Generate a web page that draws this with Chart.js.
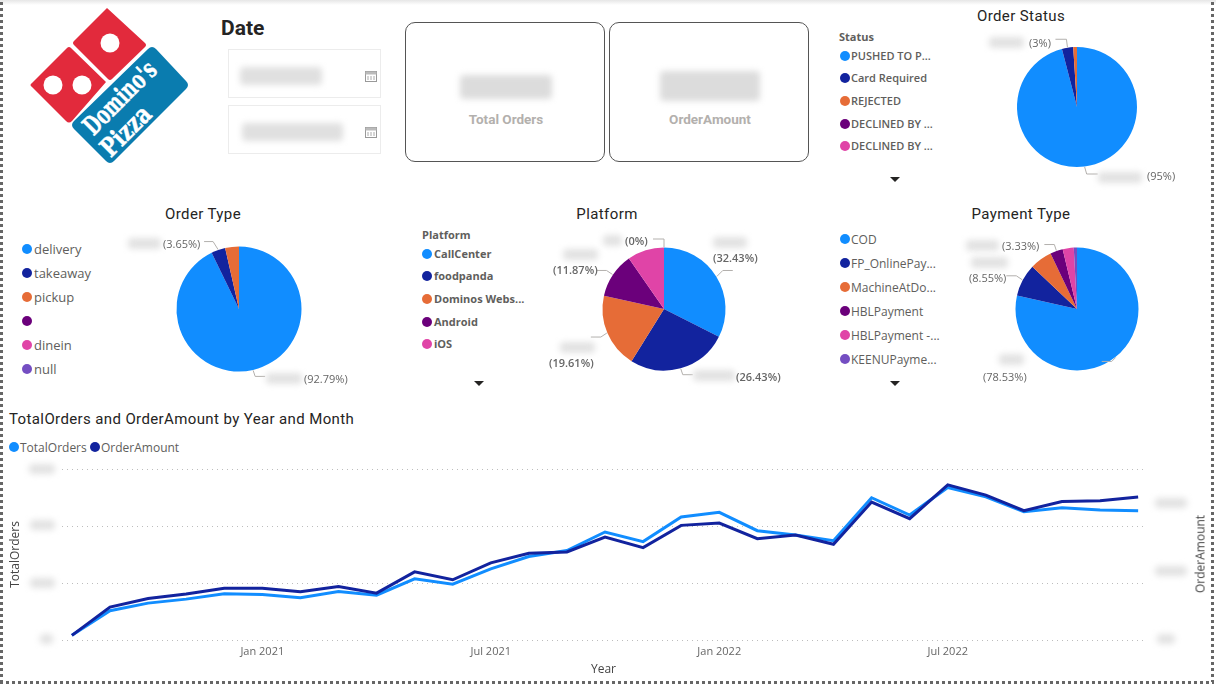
<!DOCTYPE html>
<html>
<head>
<meta charset="utf-8">
<script src="https://cdn.jsdelivr.net/npm/chart.js@4"></script>
<style>
html,body{margin:0;padding:0;background:#fff;width:1216px;height:686px;overflow:hidden}
#root{position:relative;width:1216px;height:686px;overflow:hidden;font-family:"Open Sans",sans-serif;color:#555}
.abs{position:absolute;white-space:nowrap}
.blob{position:absolute;filter:blur(3px);border-radius:4px}
.title{position:absolute;font-family:"Roboto",sans-serif;font-size:15px;color:#252423;letter-spacing:.4px;white-space:nowrap;transform:translate(-50%,-50%)}
.leg{position:absolute;white-space:nowrap;transform:translateY(-50%);color:#605e5c}
.dot{position:absolute;width:10px;height:10px;border-radius:50%;transform:translate(-50%,-50%)}
.pct{position:absolute;font-size:11px;color:#666;white-space:nowrap;transform:translateY(-50%)}
.box{position:absolute;border:1px solid #ececec;box-sizing:border-box}
.card{position:absolute;border:1px solid #555;border-radius:10px;box-sizing:border-box;background:#fff}
.caption{position:absolute;transform:translate(-50%,-50%);font-family:Roboto,sans-serif;font-weight:700;font-size:13.5px;color:#b3b0ad;white-space:nowrap}
.arrow{position:absolute;width:0;height:0;border-left:5px solid transparent;border-right:5px solid transparent;border-top:5px solid #252423;transform:translateX(-50%)}
canvas{display:block}
svg{display:block}
.cv{position:absolute}
</style>
</head>
<body>
<div id="root"></div>
<script>
// ---- data ----
const statusLabels = ["PUSHED TO P...", "Card Required", "REJECTED", "DECLINED BY ...", "DECLINED BY ..."];
const statusValues = [95, 3, 1, 0, 0];
const statusPercents = ["(95%)", "(3%)"];

const typeLabels = ["delivery", "takeaway", "pickup", "", "dinein", "null"];
const typeValues = [92.79, 3.65, 3.56, 0, 0, 0];
const typePercents = ["(92.79%)", "(3.65%)"];

const platformLabels = ["CallCenter", "foodpanda", "Dominos Webs...", "Android", "iOS"];
const platformValues = [32.43, 26.43, 19.61, 11.87, 9.66, 0];
const platformPercents = ["(32.43%)", "(26.43%)", "(19.61%)", "(11.87%)", "(0%)"];

const paymentLabels = ["COD", "FP_OnlinePay...", "MachineAtDo...", "HBLPayment", "HBLPayment -...", "KEENUPayme..."];
const paymentValues = [78.53, 8.55, 5.85, 3.33, 2.9, 0.84];
const paymentPercents = ["(78.53%)", "(8.55%)", "(3.33%)"];

const months = ["Aug 2020","Sep 2020","Oct 2020","Nov 2020","Dec 2020","Jan 2021","Feb 2021","Mar 2021","Apr 2021","May 2021","Jun 2021","Jul 2021","Aug 2021","Sep 2021","Oct 2021","Nov 2021","Dec 2021","Jan 2022","Feb 2022","Mar 2022","Apr 2022","May 2022","Jun 2022","Jul 2022","Aug 2022","Sep 2022","Oct 2022","Nov 2022","Dec 2022"];
const totalOrders = [0.82,5.13,6.47,7.17,8.10,7.99,7.41,8.51,7.87,10.73,9.80,12.48,14.64,15.69,18.95,17.26,21.57,22.39,19.18,18.43,17.43,24.96,21.92,26.76,25.13,22.51,23.21,22.80,22.68];
const orderAmount = [0.68,4.81,6.07,6.71,7.58,7.58,7.05,7.82,6.85,9.96,8.80,11.27,12.68,12.88,15.06,13.51,16.76,17.10,14.82,15.35,13.99,20.17,17.74,22.69,21.19,18.90,20.26,20.36,20.89];
const xTickLabels = ["Jan 2021","Jul 2021","Jan 2022","Jul 2022"];

const palette = ["#118DFF","#12239E","#E66C37","#6B007B","#E044A7","#744EC2"];

// ---- helpers ----
const root = document.getElementById('root');
function el(cls, style, text, tag){
  const d = document.createElement(tag||'div'); d.className = cls;
  Object.assign(d.style, style||{});
  if(text!==undefined) d.textContent = text;
  root.appendChild(d); return d;
}
function blob(x1,x2,y,h,c){ el('blob',{left:x1+'px',top:(y-h/2)+'px',width:(x2-x1)+'px',height:h+'px',background:c||'#e2e2e2'}); }
function legend(items,dotX,textX,ys,font,weight,textShift){
  items.forEach((t,i)=>{
    el('dot',{left:dotX+'px',top:ys[i]+'px',background:palette[i]});
    el('leg',{left:textX+'px',top:(ys[i]+(textShift||0))+'px',fontSize:font+'px',fontWeight:weight},t);
  });
}
const leaderPlugin = {
  id:'leaders',
  afterDatasetsDraw(chart,args,opts){
    const ctx = chart.ctx, arcs = chart.getDatasetMeta(0).data;
    ctx.save(); ctx.strokeStyle='#b3b0ad'; ctx.lineWidth=1;
    (opts.items||[]).forEach(l=>{
      const a = arcs[l.i]; const p = a.getProps(['x','y','startAngle','endAngle','outerRadius'],true);
      const m = (p.startAngle+p.endAngle)/2;
      const x0 = p.x+Math.cos(m)*(p.outerRadius+0.5), y0 = p.y+Math.sin(m)*(p.outerRadius+0.5);
      ctx.beginPath(); ctx.moveTo(x0,y0); ctx.lineTo(x0+l.dx,y0+l.dy); ctx.lineTo(x0+l.dx+l.run,y0+l.dy); ctx.stroke();
    });
    ctx.restore();
  }
};
function pie(cx,cy,r,labels,values,items){
  const W=320,H=170;
  const wrap = el('cv',{left:(cx-W/2)+'px',top:(cy-H/2)+'px',width:W+'px',height:H+'px'});
  const c = document.createElement('canvas'); c.width=W; c.height=H; c.style.width=W+'px'; c.style.height=H+'px'; wrap.appendChild(c);
  new Chart(c,{type:'pie',
    data:{labels,datasets:[{data:values,backgroundColor:palette,borderWidth:0}]},
    options:{responsive:false,animation:false,maintainAspectRatio:false,
      layout:{padding:{left:W/2-r,right:W/2-r,top:H/2-r,bottom:H/2-r}},
      plugins:{legend:{display:false},tooltip:{enabled:false},leaders:{items}}},
    plugins:[leaderPlugin]});
}

// ---- chrome ----
el('abs',{left:'0',top:'0',width:'1216px',height:'5px',background:'linear-gradient(#e6e6e6,#fff)'});
el('abs',{left:'0',top:'2px',width:'3px',height:'680px',background:'repeating-linear-gradient(#666 0 3px,transparent 3px 6px)'});
el('abs',{left:'1211px',top:'2px',width:'3px',height:'680px',background:'repeating-linear-gradient(#666 0 3px,transparent 3px 6px)'});
el('abs',{left:'0',top:'681px',width:'1214px',height:'3px',background:'repeating-linear-gradient(90deg,#666 0 3px,transparent 3px 6px)'});

// ---- logo ----
const logo = document.createElement('div');
logo.className='abs'; logo.style.left='0';logo.style.top='0';
logo.innerHTML = `<svg width="200" height="175" xmlns="http://www.w3.org/2000/svg">
<path d="M107 8 L145 43 Q147 45 145 47 L112 79 Q110 81 108 79 L74 45 Q72 43 74 41 L107 8 Z" fill="#E22A3C"/>
<path d="M67 48 Q69 46 71 48 L106 82 L72 121 Q69 124 66 121 L32 87 Q29 85 32 83 Z" fill="#E22A3C"/>
<circle cx="110" cy="43" r="9.5" fill="#fff"/><circle cx="53" cy="85" r="9.5" fill="#fff"/><circle cx="82" cy="85" r="9.5" fill="#fff"/>
<path d="M148 49 Q152 45 156 49 L186 81 Q190 85 186 89 L114 161 Q110 165 106 161 L74 129 Q70 125 74 121 Z" fill="#0A7CAF"/>
<text transform="translate(121 99) rotate(-45)" text-anchor="middle" dominant-baseline="middle" font-family="'DejaVu Serif'" font-weight="700" font-size="26" fill="#fff" stroke="#fff" stroke-width=".5" textLength="92" lengthAdjust="spacingAndGlyphs">Domino's</text>
<text transform="translate(127 132) rotate(-45)" text-anchor="middle" dominant-baseline="middle" font-family="'DejaVu Serif'" font-weight="700" font-size="26" fill="#fff" stroke="#fff" stroke-width=".5" textLength="60" lengthAdjust="spacingAndGlyphs">Pizza</text>
</svg>`;
root.appendChild(logo);

// ---- date slicer ----
el('abs',{left:'221px',top:'16px',fontFamily:'Roboto,sans-serif',fontWeight:700,fontSize:'21px',color:'#252423'},'Date');
el('box',{left:'228px',top:'49px',width:'153px',height:'49px'});
el('box',{left:'228px',top:'105px',width:'153px',height:'49px'});
blob(240,322,76,18,'#e0e0e0'); blob(242,343,132,18,'#e0e0e0');
[76,132].forEach(y=>{
  const s=document.createElement('div'); s.className='abs'; s.style.left='365px'; s.style.top=(y-6)+'px';
  s.innerHTML='<svg width="12" height="12"><rect x=".5" y="1.5" width="11" height="10" fill="none" stroke="#999"/><rect x=".5" y="1.5" width="11" height="3" fill="#bbb"/><path d="M3 6v4M6 6v4M9 6v4" stroke="#aaa"/></svg>';
  root.appendChild(s);
});

// ---- cards ----
el('card',{left:'405px',top:'22px',width:'200px',height:'140px'});
el('card',{left:'609px',top:'22px',width:'200px',height:'140px'});
blob(460,552,87,24,'#dcdcdc'); blob(660,760,86,30,'#dcdcdc');
el('caption',{left:'506px',top:'119px'},'Total Orders');
el('caption',{left:'710px',top:'119px'},'OrderAmount');

// ---- titles ----
el('title',{left:'1021px',top:'16px'},'Order Status');
el('title',{left:'203px',top:'214px'},'Order Type');
el('title',{left:'607px',top:'214px'},'Platform');
el('title',{left:'1021px',top:'214px'},'Payment Type');

// ---- legends ----
el('abs',{left:'839px',top:'29px',fontSize:'11px',fontWeight:700,color:'#605e5c'},'Status');
legend(statusLabels,845,851,[56,78,101,124,146],11,600,-1);
el('arrow',{left:'895px',top:'177px'});
legend(typeLabels,27,34,[249,273,297,321,345,369],13,400);
el('abs',{left:'422px',top:'227px',fontSize:'11px',fontWeight:700,color:'#605e5c'},'Platform');
legend(platformLabels,427,434,[254,276,299,322,344],11,700,-1);
el('arrow',{left:'479px',top:'381px'});
legend(paymentLabels,845,851,[239,263,287,311,335,359],12,400);
el('arrow',{left:'895px',top:'381px'});

// ---- pies ----
pie(1077,107,60,statusLabels,statusValues,[{i:1,dx:-1,dy:-8,run:-11},{i:0,dx:2,dy:7,run:11}]);
pie(238.7,308.8,62.5,typeLabels,typeValues,[{i:1,dx:-5,dy:-8,run:-9},{i:0,dx:2,dy:6,run:10}]);
pie(663.6,309,61.5,platformLabels,platformValues,[{i:0,dx:6,dy:-6,run:10},{i:1,dx:2,dy:6,run:10},{i:2,dx:-6,dy:4,run:-10},{i:3,dx:-6,dy:-4,run:-10},{i:5,dx:0,dy:-8,run:-11}]);
pie(1077,308.6,61.5,paymentLabels,paymentValues,[{i:3,dx:-2,dy:-6,run:-10},{i:1,dx:-6,dy:-4,run:-10},{i:0,dx:-4,dy:4,run:-10}]);

// percent labels + redacted values
blob(989,1024,42,11); el('pct',{left:'1029px',top:'42px'},statusPercents[1]);
blob(1098,1142,177,11); el('pct',{left:'1147px',top:'175px'},statusPercents[0]);

blob(128,161,243,11); el('pct',{left:'163px',top:'243px'},typePercents[1]);
blob(266,302,378,11); el('pct',{left:'304px',top:'378px'},typePercents[0]);

blob(713,747,242,11); el('pct',{left:'713px',top:'257px',fontWeight:600},platformPercents[0]);
blob(693,735,375,11); el('pct',{left:'736px',top:'376px',fontWeight:600},platformPercents[1]);
blob(560,595,347,11); el('pct',{left:'549px',top:'362px',fontWeight:600},platformPercents[2]);
blob(563,598,254,11); el('pct',{left:'553px',top:'269px',fontWeight:600},platformPercents[3]);
blob(603,622,240,11); el('pct',{left:'625px',top:'240px',fontWeight:600},platformPercents[4]);

blob(966,999,245,11); el('pct',{left:'1002px',top:'245px'},paymentPercents[2]);
blob(971,1008,262,11); el('pct',{left:'969px',top:'277px'},paymentPercents[1]);
blob(999,1024,359,11); el('pct',{left:'983px',top:'376px'},paymentPercents[0]);

// ---- line chart ----
el('abs',{left:'9px',top:'410px',fontFamily:'Roboto,sans-serif',fontSize:'15px',color:'#252423',letterSpacing:'.38px'},'TotalOrders and OrderAmount by Year and Month');
el('dot',{left:'14px',top:'447px',background:palette[0]});
el('leg',{left:'20px',top:'447px',fontSize:'12px'},'TotalOrders');
el('dot',{left:'95px',top:'447px',background:palette[1]});
el('leg',{left:'101px',top:'447px',fontSize:'12px'},'OrderAmount');
blob(29,55,469,10); blob(30,55,525,10); blob(30,55,583,10); blob(40,53,639,10);
blob(1155,1187,503,10); blob(1155,1187,571,10); blob(1157,1175,639,10);

const wrapL = el('cv',{left:'0',top:'455px',width:'1216px',height:'225px'});
const cL = document.createElement('canvas'); cL.width=1216; cL.height=225; cL.style.width='1216px'; cL.style.height='225px'; wrapL.appendChild(cL);
el('abs',{left:'1200px',top:'554px',fontSize:'12px',color:'#444',transform:'translate(-50%,-50%) rotate(-90deg)'},'OrderAmount');
const xy = arr => arr.map((v,i)=>({x:i,y:v}));
const fontAxis = {family:'"Open Sans",sans-serif',size:12};
new Chart(cL,{type:'line',
  data:{datasets:[
    {label:'TotalOrders',data:xy(totalOrders),borderColor:palette[0],borderWidth:3,pointRadius:0,tension:0,yAxisID:'y',order:2},
    {label:'OrderAmount',data:xy(orderAmount),borderColor:palette[1],borderWidth:3,pointRadius:0,tension:0,yAxisID:'y1',order:1}
  ]},
  options:{responsive:false,animation:false,maintainAspectRatio:false,
    layout:{padding:{top:14,bottom:0,left:0,right:0}},
    plugins:{legend:{display:false},tooltip:{enabled:false}},
    scales:{
      x:{type:'linear',min:-0.26,max:28.18,
        grid:{display:false,drawTicks:false},border:{display:false},
        afterBuildTicks(s){ s.ticks = xTickLabels.map(l=>({value:months.indexOf(l)})); },
        ticks:{autoSkip:false,maxRotation:0,padding:5,color:'#666',font:{family:'"Open Sans",sans-serif',size:11},
          callback:v=>months[v]},
        title:{display:true,text:'Year',color:'#444',font:fontAxis,padding:{top:2,bottom:3}},
        afterFit(s){ s.height=40; }
      },
      y:{min:0,max:30,position:'left',
        afterBuildTicks(s){ s.ticks=[0,10,20,30].map(v=>({value:v})); },
        ticks:{display:false},border:{display:false,dash:[1,4]},
        grid:{color:'#bdbdbd',lineWidth:1,drawTicks:false},
        title:{display:true,text:'TotalOrders',color:'#444',font:fontAxis,padding:{top:8,bottom:0}},
        afterFit(s){ s.width=62; }
      },
      y1:{min:0,max:25,position:'right',
        ticks:{display:false},border:{display:false},grid:{display:false,drawTicks:false},
        afterFit(s){ s.width=71; }
      }
    }
  }
});
</script>
</body>
</html>
